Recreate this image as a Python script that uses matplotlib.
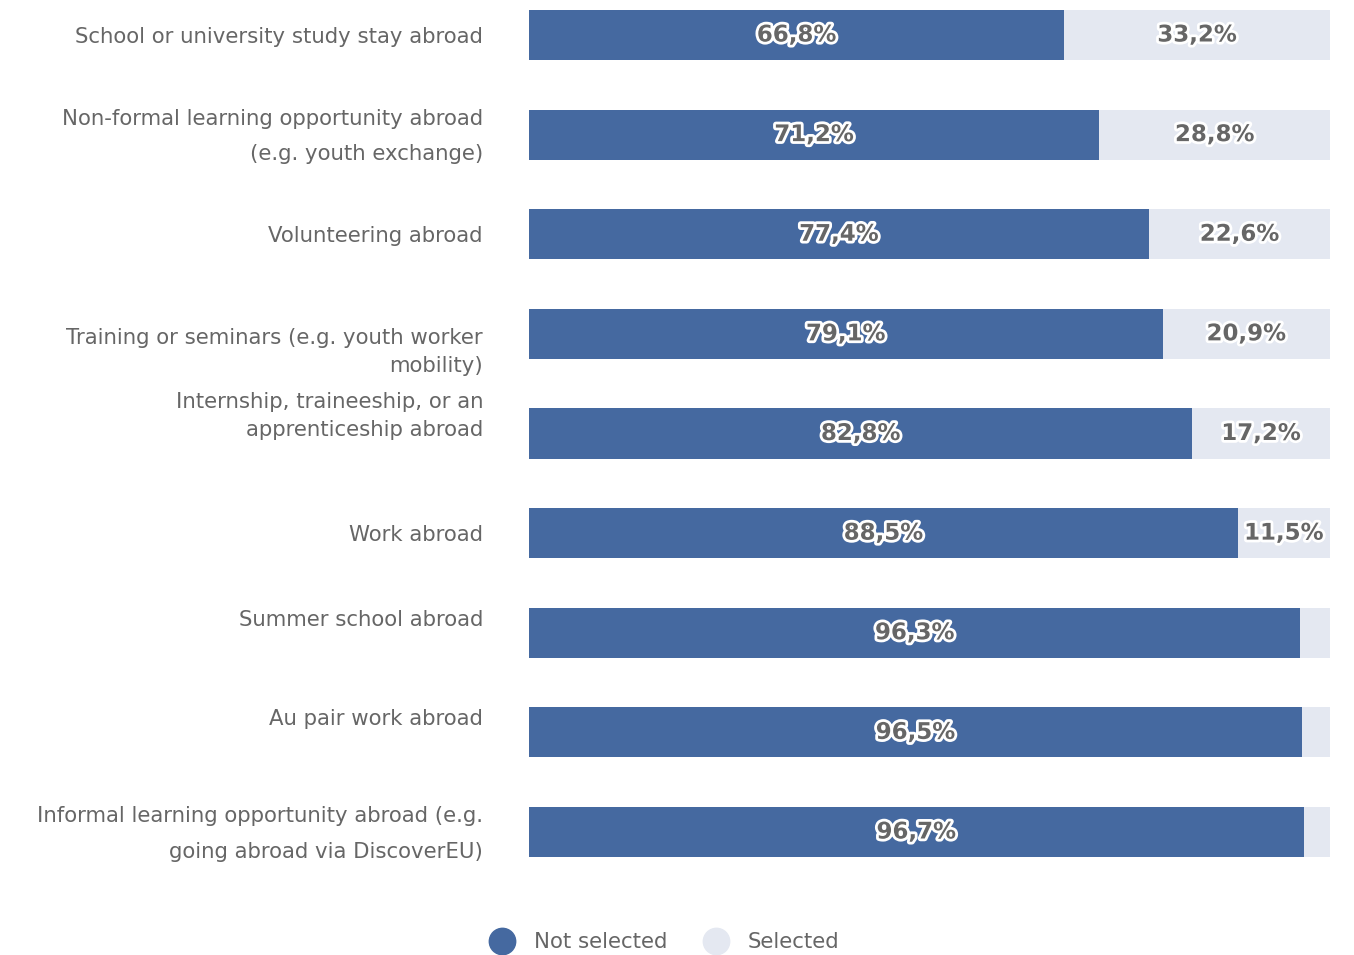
import matplotlib
matplotlib.use('Agg')
import matplotlib.pyplot as plt
import matplotlib.patheffects as pe
import matplotlib.transforms as mtransforms
from matplotlib.lines import Line2D

categories = [
    'School or university study stay abroad',
    'Non-formal learning opportunity abroad\n(e.g. youth exchange)',
    'Volunteering abroad',
    'Training or seminars (e.g. youth worker\nmobility)',
    'Internship, traineeship, or an\napprenticeship abroad',
    'Work abroad',
    'Summer school abroad',
    'Au pair work abroad',
    'Informal learning opportunity abroad (e.g.\ngoing abroad via DiscoverEU)',
]
not_selected = [66.8, 71.2, 77.4, 79.1, 82.8, 88.5, 96.3, 96.5, 96.7]
selected = [33.2, 28.8, 22.6, 20.9, 17.2, 11.5, 3.7, 3.5, 3.3]

dark = '#4569a0'
light = '#e4e8f1'
grey = '#666666'

# label tweaks (pixel shift upwards, line spacing) to mimic the source layout
label_shift = [-2, -2, -2, -18, 17, -2, 13, 13, -2]
label_spacing = [1.2, 1.95, 1.2, 1.5, 1.5, 1.2, 1.2, 1.2, 2.0]

fig = plt.figure(figsize=(13.54, 9.55), dpi=100)
ax = fig.add_axes([529 / 1354, 1 - 857 / 955, 801 / 1354, 847 / 955])

ypos = list(range(len(categories)))
h = 0.502
ax.barh(ypos, not_selected, height=h, color=dark)
ax.barh(ypos, selected, left=not_selected, height=h, color=light)
ax.set_xlim(0, 100)
ax.set_ylim(len(categories) - 1 + h / 2, -h / 2)
ax.axis('off')

outline = [pe.withStroke(linewidth=4, foreground='white')]
for i, (a, b) in enumerate(zip(not_selected, selected)):
    ax.text(a / 2, i, f'{a:.1f}%'.replace('.', ','), ha='center', va='center',
            fontsize=16.5, fontweight='bold', color=grey, path_effects=outline)
    if b > 5:
        ax.text(a + b / 2, i, f'{b:.1f}%'.replace('.', ','), ha='center', va='center',
                fontsize=16.5, fontweight='bold', color=grey, path_effects=outline)

trans = mtransforms.blended_transform_factory(ax.transAxes, ax.transData)
for i, lab in enumerate(categories):
    off = mtransforms.ScaledTranslation(0, label_shift[i] / 100, fig.dpi_scale_trans)
    ax.text(-46 / 801, i, lab, transform=trans + off, ha='right', va='center',
            multialignment='right', fontsize=15.3, color=grey,
            linespacing=label_spacing[i])

handles = [Line2D([], [], marker='o', ls='', markersize=19, color=dark),
           Line2D([], [], marker='o', ls='', markersize=19, color=light)]
fig.legend(handles, ['Not selected', 'Selected'], loc='center',
           bbox_to_anchor=(660 / 1354, 1 - 942 / 955), ncol=2, frameon=False,
           fontsize=15.3, labelcolor=grey, handletextpad=0.5, columnspacing=1.3)

fig.savefig('out.png', dpi=100)
